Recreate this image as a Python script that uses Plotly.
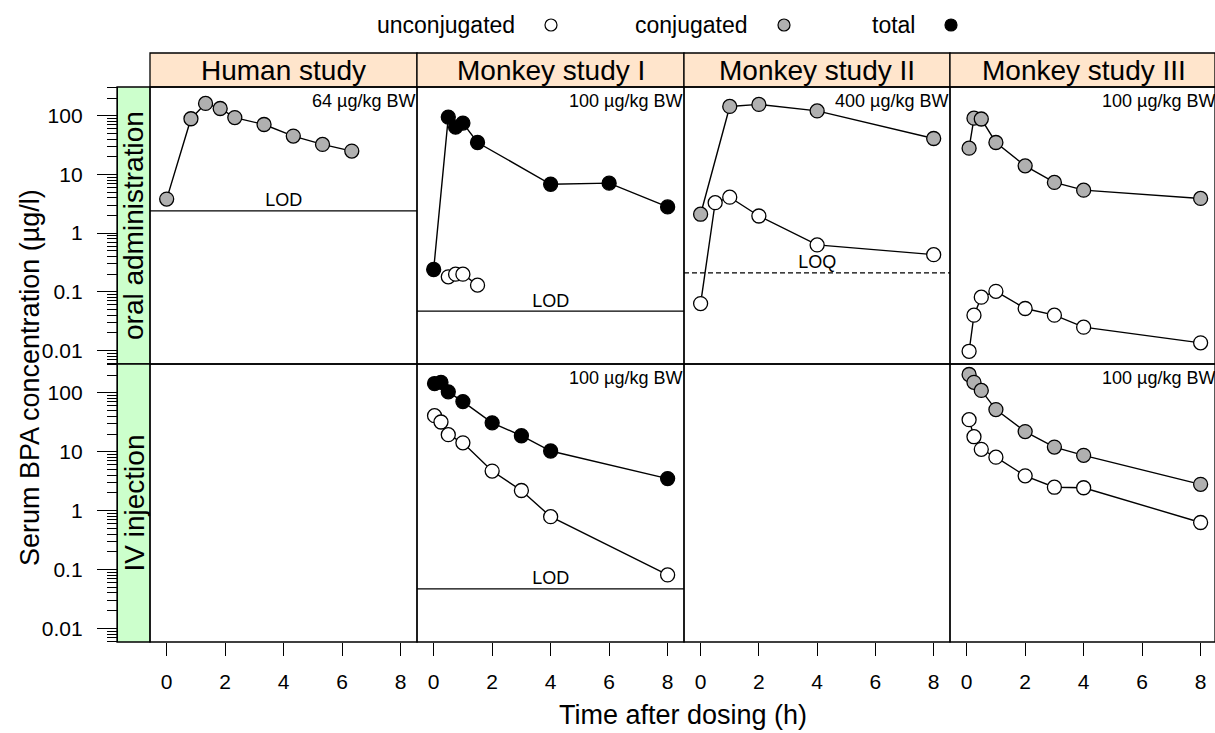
import plotly.graph_objects as go

# ---------------- data ----------------
columns = ["Human study", "Monkey study I", "Monkey study II", "Monkey study III"]
rows = ["oral administration", "IV injection"]
legend_labels = ["unconjugated", "conjugated", "total"]

human_oral_time = [0, 0.83, 1.33, 1.83, 2.33, 3.33, 4.33, 5.33, 6.33]
human_oral_conj = [3.8, 89, 162, 133, 93, 71, 45, 32.5, 25]
human_lod = 2.4
human_dose = "64 µg/kg BW"

mk1_oral_time_total = [0, 0.5, 0.75, 1, 1.5, 4, 6, 8]
mk1_oral_total = [0.24, 95, 64, 75, 35, 6.8, 7.1, 2.8]
mk1_oral_time_unconj = [0.5, 0.75, 1, 1.5]
mk1_oral_unconj = [0.18, 0.2, 0.2, 0.13]
mk1_lod = 0.047
mk1_iv_time = [0.03, 0.25, 0.5, 1, 2, 3, 4, 8]
mk1_iv_total = [144, 151, 104, 71, 31, 18.7, 10.3, 3.5]
mk1_iv_unconj = [41, 32, 19.5, 14.2, 4.7, 2.2, 0.79, 0.081]
mk1_dose = "100 µg/kg BW"

mk2_oral_time_conj = [0, 1, 2, 4, 8]
mk2_oral_conj = [2.1, 144, 156, 121, 41]
mk2_oral_time_unconj = [0, 0.5, 1, 2, 4, 8]
mk2_oral_unconj = [0.063, 3.3, 4.1, 1.96, 0.63, 0.43]
mk2_loq = 0.21
mk2_dose = "400 µg/kg BW"

mk3_time = [0.083, 0.25, 0.5, 1, 2, 3, 4, 8]
mk3_oral_conj = [28, 91, 88, 35, 14, 7.3, 5.4, 3.9]
mk3_oral_unconj = [0.0097, 0.04, 0.081, 0.102, 0.052, 0.04, 0.025, 0.0135]
mk3_iv_conj = [205, 151, 110, 52, 22, 12, 8.7, 2.8]
mk3_iv_unconj = [35, 18, 11, 8.1, 3.9, 2.5, 2.45, 0.63]
mk3_dose = "100 µg/kg BW"

y_ticks = [0.01, 0.1, 1, 10, 100]
y_ticktext = ["0.01", "0.1", "1", "10", "100"]
x_ticks = [0, 2, 4, 6, 8]

# ---------------- styles ----------------
W, H = 1215, 733
FONT = "Liberation Sans, Arial, Helvetica, sans-serif"
FILL = {"unconjugated": "white", "conjugated": "#B0B0B0", "total": "black"}
STRIP_TOP = "#FFE5CC"
STRIP_LEFT = "#CCFFCC"
col_px = [(150, 417), (417, 684), (684, 950), (950, 1215)]
row_px = [(87, 364), (364, 642)]
x_range = [-0.57, 8.56]
y_range = [-2.23, 2.49]


def px(p):
    return p / W


def py(p):
    return 1 - p / H


def sfx(k):
    return "" if k == 1 else str(k)


def k_of(r, c):
    return r * 4 + c + 1


fig = go.Figure()

# one empty trace per panel so that every panel (also the empty ones) exists
for r in range(2):
    for c in range(4):
        s = sfx(k_of(r, c))
        fig.add_trace(go.Scatter(x=[None], y=[None], mode="markers", xaxis=f"x{s}",
                                 yaxis=f"y{s}", showlegend=False, hoverinfo="skip"))


def add_series(r, c, t, v, kind):
    s = sfx(k_of(r, c))
    fig.add_trace(go.Scatter(
        x=t, y=v, mode="lines+markers",
        xaxis=f"x{s}", yaxis=f"y{s}",
        line=dict(color="black", width=1.4),
        marker=dict(size=14, color=FILL[kind], line=dict(color="black", width=1.3)),
        showlegend=False, hoverinfo="x+y"))


# row 0 oral, row 1 IV
add_series(0, 0, human_oral_time, human_oral_conj, "conjugated")
add_series(0, 1, mk1_oral_time_total, mk1_oral_total, "total")
add_series(0, 1, mk1_oral_time_unconj, mk1_oral_unconj, "unconjugated")
add_series(0, 2, mk2_oral_time_conj, mk2_oral_conj, "conjugated")
add_series(0, 2, mk2_oral_time_unconj, mk2_oral_unconj, "unconjugated")
add_series(0, 3, mk3_time, mk3_oral_conj, "conjugated")
add_series(0, 3, mk3_time, mk3_oral_unconj, "unconjugated")
add_series(1, 1, mk1_iv_time, mk1_iv_total, "total")
add_series(1, 1, mk1_iv_time, mk1_iv_unconj, "unconjugated")
add_series(1, 3, mk3_time, mk3_iv_conj, "conjugated")
add_series(1, 3, mk3_time, mk3_iv_unconj, "unconjugated")

# legend (key) on its own hidden axis, in pixel units
legend_x = [551, 784, 951]
legend_y = 25
fig.add_trace(go.Scatter(
    x=legend_x, y=[legend_y] * 3, mode="markers", xaxis="x9", yaxis="y9",
    marker=dict(size=12, color=[FILL[l] for l in legend_labels],
                line=dict(color="black", width=1.2)),
    showlegend=False, hoverinfo="skip"))

minor_vals = [m * 10.0 ** e for e in range(-3, 3) for m in range(2, 10)]

layout = dict(
    width=W, height=H, margin=dict(l=0, r=0, t=0, b=0),
    paper_bgcolor="white", plot_bgcolor="white",
    font=dict(family=FONT, color="black"),
    showlegend=False,
)

shapes = []
annotations = []

for r in range(2):
    for c in range(4):
        s = sfx(k_of(r, c))
        x0, x1 = col_px[c]
        y0, y1 = row_px[r]
        xr = list(x_range)
        if c == 3:
            xr[1] = x_range[0] + (x_range[1] - x_range[0]) * (x1 - x0) / 267.0
        layout[f"xaxis{s}"] = dict(
            domain=[px(x0), px(x1)], range=xr, anchor=f"y{s}",
            showgrid=False, zeroline=False, showline=False,
            ticks="outside" if r == 1 else "", showticklabels=(r == 1),
            tickvals=x_ticks, ticklen=13, tickwidth=1.3, tickcolor="black",
            tickfont=dict(size=21, family=FONT), ticklabelstandoff=8,
        )
        ya = dict(
            domain=[py(y1), py(y0)], type="log", range=y_range,
            showgrid=False, zeroline=False,
        )
        if c == 0:
            ya.update(
                anchor="free", position=px(117), side="left",
                showline=True, linecolor="black", linewidth=1.3,
                ticks="outside", ticklen=20, tickwidth=1.3, tickcolor="black",
                tickvals=y_ticks, ticktext=y_ticktext,
                tickfont=dict(size=21, family=FONT), ticklabelstandoff=10,
                minor=dict(ticks="outside", ticklen=10, tickwidth=1.1,
                           tickcolor="black", tickvals=minor_vals, showgrid=False),
            )
        else:
            ya.update(anchor=f"x{s}", showline=False, ticks="", showticklabels=False)
        layout[f"yaxis{s}"] = ya
        # panel border
        shapes.append(dict(type="rect", xref=f"x{s} domain", yref=f"y{s} domain",
                           x0=0, x1=1, y0=0, y1=1,
                           line=dict(color="black", width=1.3), layer="above"))

layout["xaxis9"] = dict(domain=[0, 1], range=[0, W], visible=False, anchor="y9", fixedrange=True)
layout["yaxis9"] = dict(domain=[py(50), 1], range=[50, 0], visible=False, anchor="x9", fixedrange=True)

# top strips
for c, name in enumerate(columns):
    s = sfx(k_of(0, c))
    shapes.append(dict(type="rect", xref=f"x{s} domain", yref="paper",
                       x0=0, x1=1, y0=py(87), y1=py(53),
                       fillcolor=STRIP_TOP, line=dict(color="black", width=1.3), layer="below"))
    annotations.append(dict(text=name, xref=f"x{s} domain", yref="paper",
                            x=0.5 if c < 3 else 0.5 * 267 / 265, y=py(70),
                            xanchor="center", yanchor="middle", showarrow=False,
                            font=dict(size=28, family=FONT)))

# left strips
for r, name in enumerate(rows):
    s = sfx(k_of(r, 0))
    shapes.append(dict(type="rect", xref="paper", yref=f"y{s} domain",
                       x0=px(117), x1=px(150), y0=0, y1=1,
                       fillcolor=STRIP_LEFT, line=dict(color="black", width=1.3), layer="below"))
    annotations.append(dict(text=name, xref="paper", yref=f"y{s} domain",
                            x=px(133.5), y=0.5, textangle=-90,
                            xanchor="center", yanchor="middle", showarrow=False,
                            font=dict(size=28, family=FONT)))

# dose labels
doses = [(0, 0, human_dose), (0, 1, mk1_dose), (0, 2, mk2_dose), (0, 3, mk3_dose),
         (1, 1, mk1_dose), (1, 3, mk3_dose)]
for r, c, d in doses:
    s = sfx(k_of(r, c))
    annotations.append(dict(text=d, xref=f"x{s} domain", yref=f"y{s} domain",
                            x=1 if c < 3 else 267 / 265, y=1, xanchor="right", yanchor="top",
                            yshift=-2, showarrow=False, font=dict(size=18, family=FONT)))

# detection limit lines
limits = [(0, 0, human_lod, "LOD", "solid"), (0, 1, mk1_lod, "LOD", "solid"),
          (1, 1, mk1_lod, "LOD", "solid"), (0, 2, mk2_loq, "LOQ", "5px,3px")]
for r, c, val, lab, dash in limits:
    s = sfx(k_of(r, c))
    shapes.append(dict(type="line", xref=f"x{s} domain", yref=f"y{s}",
                       x0=0, x1=1, y0=val, y1=val,
                       line=dict(color="black", width=1.3, dash=dash)))
    fig.add_trace(go.Scatter(x=[4], y=[val], mode="text", text=[lab],
                             textposition="top center", xaxis=f"x{s}", yaxis=f"y{s}",
                             textfont=dict(size=18, family=FONT, color="black"),
                             showlegend=False, hoverinfo="skip"))

# axis titles
annotations.append(dict(text="Time after dosing (h)", xref="paper", yref="paper",
                        x=px(683), y=py(715), xanchor="center", yanchor="middle",
                        showarrow=False, font=dict(size=27, family=FONT)))
annotations.append(dict(text="Serum BPA concentration (µg/l)", xref="paper", yref="paper",
                        x=px(30), y=py(364), xanchor="center", yanchor="middle", textangle=-90,
                        yshift=-14, showarrow=False, font=dict(size=27, family=FONT)))

# legend texts
for lab, lx in zip(legend_labels, legend_x):
    annotations.append(dict(text=lab, xref="x9", yref="y9", x=lx - 34, y=legend_y,
                            xanchor="right", yanchor="middle", showarrow=False,
                            font=dict(size=23, family=FONT)))

layout["shapes"] = shapes
layout["annotations"] = annotations
fig.update_layout(**layout)
fig.write_html("out.html")
